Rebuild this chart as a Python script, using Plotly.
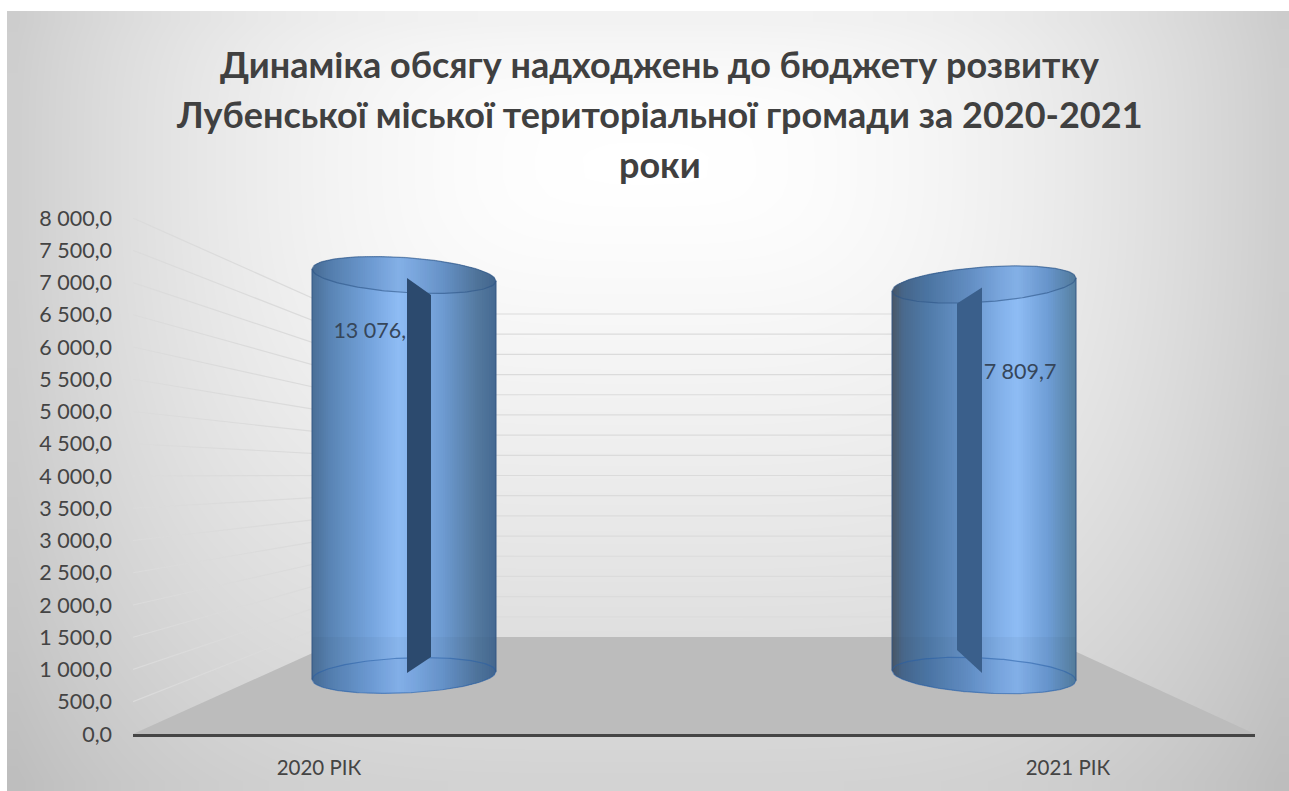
import numpy as np
import plotly.graph_objects as go

# Chart content
TITLE_LINES = [
    "Динаміка обсягу надходжень до бюджету розвитку",
    "Лубенської міської територіальної громади за 2020-2021",
    "роки",
]
CATEGORIES = ["2020 РІК", "2021 РІК"]
VALUES = [13076.3, 7809.7]
VALUE_LABELS = ["13 076,3", "7 809,7"]
AXIS_MAX = 8000
TICK_VALUES = list(range(0, 8001, 500))
TICK_LABELS = ["0,0", "500,0", "1 000,0", "1 500,0", "2 000,0", "2 500,0", "3 000,0", "3 500,0",
               "4 000,0", "4 500,0", "5 000,0", "5 500,0", "6 000,0", "6 500,0", "7 000,0",
               "7 500,0", "8 000,0"]

W, H = 1289, 791
FONT = "Lato, 'Noto Sans', sans-serif"

# Horizontal extent of the front plane, and the vertical pixels of its value scale
FRONT_LEFT, FRONT_RIGHT = 133, 1255
BACK_LEFT, BACK_RIGHT = 348, 1044
AXIS_BOTTOM, AXIS_TOP = 734, 218
UNITS_PER_PX = AXIS_MAX / (AXIS_BOTTOM - AXIS_TOP)


def plane(base_px, top_px):
    """Return a mapper from a value to the front-axis scale for a plane deeper in the scene."""
    offset = (AXIS_BOTTOM - base_px) * UNITS_PER_PX
    scale = (base_px - top_px) / (AXIS_BOTTOM - AXIS_TOP)
    return lambda v: offset + scale * min(v, AXIS_MAX)


back_plane = plane(637, 314)
bar_plane = plane(675.5, 275)

# Cylinder appearance: centre, ellipse shear at top and bottom, sheen, inner fin
RX, RY = 92, 17.5
CYLINDERS = [
    dict(cx=404, tilt_top=6, tilt_bottom=-4,
         stops=[0, .1, .32, .47, .55, .72, .9, 1],
         colors=["#4a6f97", "#5a85b5", "#76a5de", "#8fbdf5", "#85b3ec", "#6d9ad0", "#54799f", "#466a92"],
         fin=[(3, 3), (27, 20), (27, -18.5), (3, -2.5)], fin_color="#2c4a6e",
         label_xy=(376, 333)),
    dict(cx=984, tilt_top=-6.5, tilt_bottom=5,
         stops=[0, .06, .18, .42, .6, .68, .85, 1],
         colors=["#4b5866", "#4a6a8e", "#4f79a6", "#6a97cd", "#85b3ec", "#8fbdf5", "#6f9ed6", "#56809f"],
         fin=[(-2, 3), (-27, 19), (-27, -25.5), (-2, -2.5)], fin_color="#3a5f8b",
         label_xy=(1020, 374)),
]

fig = go.Figure()

# Page backdrop: soft light gradient, brightest behind the heading
BG_LEFT, BG_TOP = 7, 11
nx, ny = 65, 40
dx, dy = (W - BG_LEFT) / nx, (H - BG_TOP) / ny
bx = BG_LEFT + dx * (np.arange(nx) + 0.5)
by = BG_TOP + dy * (np.arange(ny) + 0.5)
gx, gy = np.meshgrid(bx, by)
horizontal = 50 * ((gx - 645) / 640) ** 2
vertical = np.where(gy > 170, 45 * (np.abs(gy - 170) / 620) ** 1.2, 15 * ((170 - gy) / 160) ** 2)
backdrop = 255 - np.sqrt(horizontal ** 2 + vertical ** 2)
fig.add_trace(go.Heatmap(x=bx, y=by, z=backdrop, zmin=0, zmax=255, zsmooth="best", showscale=False,
                         colorscale=[[0, "rgb(0,0,0)"], [1, "rgb(255,255,255)"]], hoverinfo="skip",
                         xaxis="x", yaxis="y"))


def scene(x, y, **kw):
    fig.add_trace(go.Scatter(x=x, y=y, xaxis="x2", yaxis="y2", hoverinfo="skip", showlegend=False, **kw))


# Floor in perspective
scene([FRONT_LEFT, BACK_LEFT, BACK_RIGHT, FRONT_RIGHT, FRONT_LEFT],
      [0, back_plane(0), back_plane(0), 0, 0],
      mode="lines", fill="toself", fillcolor="#bcbcbc", line=dict(width=0))

# Gridlines along the left wall and across the back wall
GRID = "#dbdbdb"
for v in TICK_VALUES[1:]:
    scene([FRONT_LEFT, BACK_LEFT, BACK_RIGHT], [v, back_plane(v), back_plane(v)],
          mode="lines", line=dict(color=GRID, width=1.2))


def hex_rgb(c):
    return np.array([int(c[i:i + 2], 16) for i in (1, 3, 5)], dtype=float)


def ellipse_arc(u, centre, tilt, side):
    """Axis height of an ellipse edge at relative position u in [-1, 1]; side=+1 is the far edge."""
    px_offset = side * RY * np.sqrt(np.clip(1 - u ** 2, 0, 1)) - tilt * u
    return centre + px_offset * UNITS_PER_PX


for value, label, cyl in zip(VALUES, VALUE_LABELS, CYLINDERS):
    top, bottom = bar_plane(value), bar_plane(0)
    cx = cyl["cx"]
    rgb = np.array([hex_rgb(c) for c in cyl["colors"]])

    # Curved body, painted as narrow vertical strips for the metallic sheen
    n = 80
    edges = np.linspace(-1, 1, n + 1)
    for a, b in zip(edges[:-1], edges[1:]):
        mid = (a + b) / 2
        col = [np.interp((mid + 1) / 2, cyl["stops"], rgb[:, k]) for k in range(3)]
        b2 = min(b + 0.012, 1)
        uu = np.array([a, b2])
        ys = np.r_[ellipse_arc(uu, bottom, cyl["tilt_bottom"], -1),
                   ellipse_arc(uu[::-1], top, cyl["tilt_top"], 1)]
        xs = np.r_[cx + RX * uu, cx + RX * uu[::-1]]
        scene(np.r_[xs, xs[0]], np.r_[ys, ys[0]], mode="lines", fill="toself",
              fillcolor="rgb(%d,%d,%d)" % tuple(col), line=dict(width=0))

    # Floor edge seen faintly through the translucent body
    uu = np.linspace(-1, 1, 60)
    scene(np.r_[cx + RX * uu, cx + RX * uu[::-1]],
          np.r_[ellipse_arc(uu, bottom, cyl["tilt_bottom"], -1), np.full(60, back_plane(0))],
          mode="lines", fill="toself", fillcolor="rgba(30,50,80,0.05)", line=dict(width=0))

    # Top and bottom rims
    uu = np.linspace(-1, 1, 90)
    for centre, tilt, fill, edge in [
        (top, cyl["tilt_top"], "rgba(40,70,110,0.10)", "rgba(45,85,135,0.6)"),
        (bottom, cyl["tilt_bottom"], "rgba(30,90,170,0.06)", "rgba(40,95,165,0.55)"),
    ]:
        scene(np.r_[cx + RX * uu, cx + RX * uu[::-1]],
              np.r_[ellipse_arc(uu, centre, tilt, -1), ellipse_arc(uu[::-1], centre, tilt, 1)],
              mode="lines", fill="toself", fillcolor=fill, line=dict(color=edge, width=1.2))

    # Body outline on both sides
    for side in (-1, 1):
        tilt_t, tilt_b = cyl["tilt_top"], cyl["tilt_bottom"]
        scene([cx + side * RX] * 2,
              [ellipse_arc(np.array([side]), top, tilt_t, 1)[0],
               ellipse_arc(np.array([side]), bottom, tilt_b, -1)[0]],
              mode="lines", line=dict(color="rgba(50,85,130,0.8)", width=1.2))

    # Value label, then the inner fin that partly hides it
    lx, ly = cyl["label_xy"]
    scene([lx], [(AXIS_BOTTOM - ly) * UNITS_PER_PX], mode="text", text=[label],
          textposition="middle center", textfont=dict(family=FONT, size=21.5, color="#36465a"))
    fin = cyl["fin"]
    anchors = [top, top, bottom, bottom]
    scene([cx + p[0] for p in fin] + [cx + fin[0][0]],
          [a - p[1] * UNITS_PER_PX for p, a in zip(fin, anchors)] + [top - fin[0][1] * UNITS_PER_PX],
          mode="lines", fill="toself", fillcolor=cyl["fin_color"], line=dict(width=0))

for i, line in enumerate(TITLE_LINES):
    fig.add_annotation(text=line, xref="paper", yref="paper", x=660 / W, y=1 - (64 + 50 * i) / H,
                       xanchor="center", yanchor="middle", showarrow=False,
                       font=dict(family=FONT, size=36, color="#404040", weight="bold"))

fig.update_layout(
    width=W, height=H, margin=dict(l=0, r=0, t=0, b=0, autoexpand=False), paper_bgcolor="white",
    plot_bgcolor="rgba(0,0,0,0)", showlegend=False,
    xaxis=dict(domain=[0, 1], range=[0, W], visible=False, fixedrange=True, automargin=False),
    yaxis=dict(domain=[0, 1], range=[H, 0], visible=False, fixedrange=True, automargin=False),
    xaxis2=dict(domain=[FRONT_LEFT / W, FRONT_RIGHT / W], range=[FRONT_LEFT, FRONT_RIGHT], anchor="y2",
                tickvals=[319, 1068], ticktext=CATEGORIES, showgrid=False, zeroline=False,
                showline=True, linecolor="#454545", linewidth=3, ticks="", ticklabelstandoff=13,
                tickfont=dict(family=FONT, size=20.5, color="#444444"), fixedrange=True, automargin=False),
    yaxis2=dict(domain=[(H - AXIS_BOTTOM) / H, (H - AXIS_TOP) / H], range=[0, AXIS_MAX], anchor="x2",
                tickvals=TICK_VALUES, ticktext=TICK_LABELS, showgrid=False, zeroline=False, showline=False,
                ticks="", ticklabelstandoff=20, tickfont=dict(family=FONT, size=21.5, color="#444444"),
                fixedrange=True, automargin=False),
)

fig.write_html("out.html")
